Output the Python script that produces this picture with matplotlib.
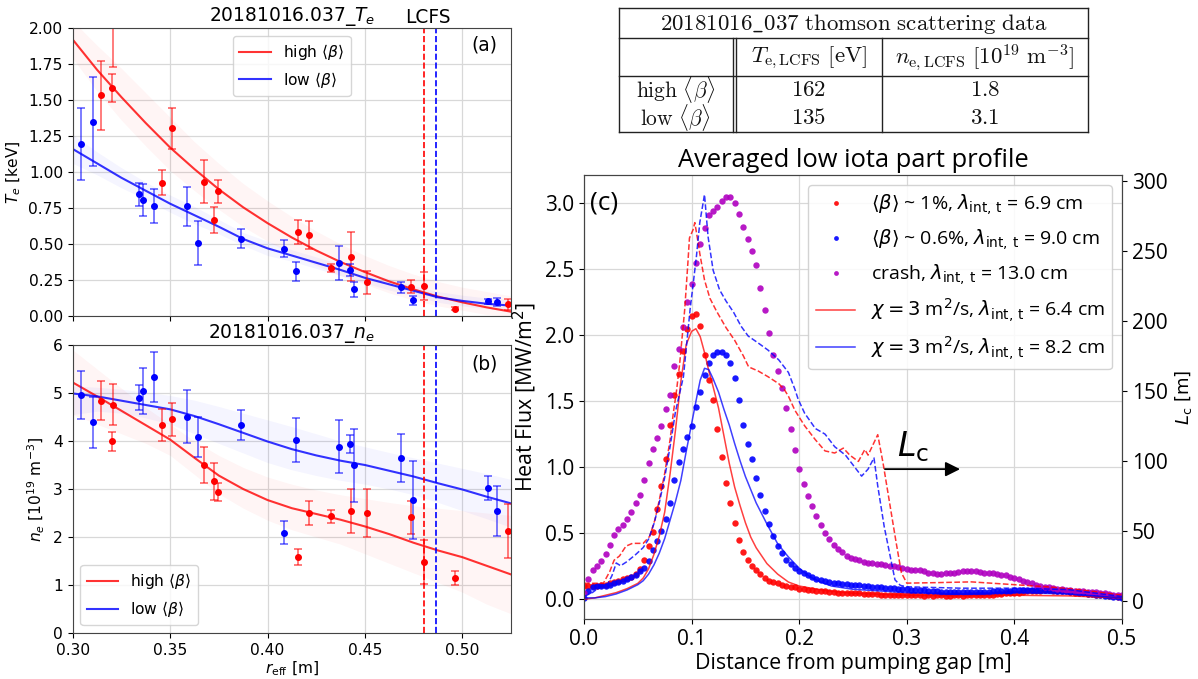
import numpy as np
import matplotlib
matplotlib.use("Agg")
import matplotlib.pyplot as plt

# ================= (a)/(b) Thomson scattering profiles =================
red_r = [0.3147, 0.3203, 0.3207, 0.3458, 0.3511, 0.3673, 0.3726, 0.3746, 0.4159, 0.4215,
         0.4325, 0.4430, 0.4509, 0.4738, 0.4802, 0.4965, 0.5237]
red_te = [1.534, 1.583, 2.25, 0.925, 1.303, 0.934, 0.667, 0.867, 0.586, 0.563,
          0.332, 0.411, 0.235, 0.203, 0.208, 0.051, 0.081]
red_te_err = [0.24, 0.10, 0.52, 0.087, 0.14, 0.15, 0.088, 0.08, 0.083, 0.10,
              0.027, 0.17, 0.08, 0.045, 0.10, 0.01, 0.04]
red_ne = [4.84, 3.99, 4.76, 4.33, 4.45, 3.50, 3.16, 2.93, 1.58, 2.50,
          2.43, 2.55, 2.51, 2.41, 1.48, 1.15, 2.12]
red_ne_err = [0.41, 0.19, 0.42, 0.33, 0.35, 0.37, 0.38, 0.19, 0.17, 0.26,
              0.14, 0.46, 0.50, 0.35, 0.45, 0.15, 0.56]

blue_r = [0.3042, 0.3103, 0.3339, 0.3361, 0.3418, 0.3585, 0.3645, 0.3865, 0.4085, 0.4144,
          0.4366, 0.4422, 0.4445, 0.4683, 0.4747, 0.5130, 0.5176]
blue_te = [1.195, 1.35, 0.844, 0.807, 0.764, 0.761, 0.505, 0.537, 0.468, 0.311,
           0.367, 0.318, 0.185, 0.198, 0.108, 0.101, 0.097]
blue_te_err = [0.25, 0.31, 0.08, 0.11, 0.115, 0.137, 0.153, 0.065, 0.06, 0.067,
               0.12, 0.04, 0.052, 0.04, 0.032, 0.02, 0.03]
blue_ne = [4.96, 4.39, 4.90, 5.04, 5.34, 4.51, 4.08, 4.33, 2.09, 4.02,
           3.88, 3.94, 3.49, 3.64, 2.77, 3.02, 2.54]
blue_ne_err = [0.50, 0.53, 0.26, 0.48, 0.52, 0.55, 0.41, 0.31, 0.235, 0.46,
               0.55, 0.19, 0.76, 0.50, 0.82, 0.25, 0.52]

fit_r = [0.300, 0.3125, 0.325, 0.3375, 0.350, 0.3625, 0.375, 0.3875, 0.400, 0.4125,
         0.425, 0.4375, 0.450, 0.4625, 0.475, 0.4875, 0.500, 0.5125, 0.525]
te_red_fit = [1.92, 1.71, 1.52, 1.34, 1.17, 1.02, 0.88, 0.755, 0.645, 0.545,
              0.455, 0.375, 0.305, 0.24, 0.185, 0.135, 0.095, 0.06, 0.03]
te_red_hi = [2.05, 1.88, 1.72, 1.55, 1.38, 1.21, 1.06, 0.92, 0.80, 0.69,
             0.59, 0.50, 0.42, 0.35, 0.29, 0.24, 0.20, 0.17, 0.14]
te_red_lo = [1.79, 1.56, 1.36, 1.18, 1.01, 0.87, 0.74, 0.62, 0.52, 0.43,
             0.35, 0.28, 0.22, 0.16, 0.11, 0.07, 0.04, 0.01, 0.0]
te_blue_fit = [1.16, 1.06, 0.96, 0.87, 0.78, 0.70, 0.62, 0.535, 0.47, 0.42,
               0.37, 0.32, 0.265, 0.22, 0.175, 0.13, 0.105, 0.085, 0.072]
te_blue_hi = [1.26, 1.14, 1.03, 0.93, 0.84, 0.76, 0.67, 0.58, 0.52, 0.46,
              0.41, 0.36, 0.30, 0.26, 0.21, 0.17, 0.145, 0.125, 0.115]
te_blue_lo = [1.06, 0.98, 0.89, 0.81, 0.72, 0.64, 0.57, 0.49, 0.42, 0.38,
              0.33, 0.28, 0.23, 0.18, 0.14, 0.095, 0.07, 0.05, 0.035]

ne_red_fit = [5.22, 4.93, 4.63, 4.33, 4.03, 3.65, 3.28, 3.00, 2.77, 2.60,
              2.48, 2.36, 2.22, 2.06, 1.88, 1.72, 1.58, 1.40, 1.22]
ne_red_hi = [5.90, 5.50, 5.10, 4.70, 4.35, 4.00, 3.70, 3.45, 3.25, 3.10,
             2.98, 2.88, 2.80, 2.72, 2.65, 2.60, 2.55, 2.50, 2.45]
ne_red_lo = [4.55, 4.35, 4.15, 3.95, 3.70, 3.30, 2.90, 2.60, 2.35, 2.15,
             2.00, 1.85, 1.65, 1.45, 1.25, 1.05, 0.85, 0.60, 0.40]
ne_blue_fit = [4.99, 4.93, 4.84, 4.75, 4.66, 4.52, 4.35, 4.17, 3.99, 3.83,
               3.70, 3.59, 3.50, 3.38, 3.26, 3.12, 2.99, 2.84, 2.70]
ne_blue_hi = [5.15, 5.12, 5.08, 5.02, 4.95, 4.85, 4.72, 4.58, 4.44, 4.30,
              4.15, 4.00, 3.88, 3.76, 3.65, 3.54, 3.43, 3.32, 3.20]
ne_blue_lo = [4.55, 4.62, 4.58, 4.48, 4.35, 4.15, 3.95, 3.75, 3.55, 3.40,
              3.28, 3.18, 3.10, 3.00, 2.88, 2.72, 2.55, 2.38, 2.20]

lcfs_red = 0.4803
lcfs_blue = 0.4863
profile_labels = [r'high $\langle\beta\rangle$', r'low $\langle\beta\rangle$']

# ================= table =================
table_title = r'$\mathrm{20181016\_037\ thomson\ scattering\ data}$'
table_cols = [r'$T_{\mathrm{e,LCFS}}\ [\mathrm{eV}]$',
              r'$n_{\mathrm{e,LCFS}}\ [10^{19}\ \mathrm{m}^{-3}]$']
table_rows = [r'$\mathrm{high}\ \langle\beta\rangle$', r'$\mathrm{low}\ \langle\beta\rangle$']
table_te = ['$162$', '$135$']
table_ne = ['$1.8$', '$3.1$']

# ================= (c) heat flux profiles =================
n_dots = 126
dot_step = 0.004
hf_red = [0.10, 0.10, 0.10, 0.10, 0.11, 0.11, 0.12, 0.13, 0.14, 0.15,
          0.16, 0.17, 0.19, 0.23, 0.30, 0.40, 0.51, 0.68, 0.86, 1.06,
          1.32, 1.55, 1.71, 1.88, 2.05, 2.15, 2.16, 2.07, 1.85, 1.66,
          1.51, 1.29, 1.08, 0.88, 0.73, 0.58, 0.45, 0.36, 0.30, 0.25,
          0.22, 0.19, 0.16, 0.14, 0.13, 0.12, 0.11, 0.10, 0.095, 0.09,
          0.08, 0.08, 0.07, 0.07, 0.065, 0.06, 0.06, 0.055, 0.055, 0.05,
          0.05, 0.05, 0.045, 0.045, 0.045, 0.04, 0.04, 0.04, 0.04, 0.035,
          0.035, 0.035, 0.035, 0.03, 0.035, 0.03, 0.03, 0.03, 0.03, 0.025,
          0.03, 0.025, 0.03, 0.03, 0.025, 0.025, 0.03, 0.03, 0.025, 0.03,
          0.03, 0.03, 0.035, 0.03, 0.035, 0.035, 0.04, 0.04, 0.045, 0.045,
          0.05, 0.05, 0.055, 0.06, 0.06, 0.065, 0.065, 0.07, 0.07, 0.065,
          0.065, 0.06, 0.06, 0.055, 0.05, 0.05, 0.045, 0.04, 0.04, 0.035,
          0.03, 0.03, 0.025, 0.025, 0.02, 0.02]
hf_blue = [0.01, 0.06, 0.09, 0.10, 0.10, 0.10, 0.11, 0.12, 0.13, 0.14,
           0.15, 0.165, 0.18, 0.21, 0.24, 0.29, 0.37, 0.44, 0.52, 0.61,
           0.73, 0.90, 1.04, 1.14, 1.23, 1.31, 1.46, 1.57, 1.70, 1.79,
           1.85, 1.87, 1.87, 1.85, 1.79, 1.68, 1.51, 1.32, 1.18, 1.06,
           0.92, 0.79, 0.67, 0.57, 0.48, 0.40, 0.35, 0.30, 0.27, 0.235,
           0.215, 0.195, 0.18, 0.165, 0.155, 0.145, 0.138, 0.13, 0.125, 0.12,
           0.117, 0.113, 0.11, 0.107, 0.104, 0.10, 0.098, 0.095, 0.092, 0.09,
           0.087, 0.085, 0.083, 0.08, 0.078, 0.075, 0.072, 0.07, 0.068, 0.066,
           0.064, 0.062, 0.06, 0.058, 0.057, 0.056, 0.055, 0.055, 0.054, 0.054,
           0.055, 0.055, 0.056, 0.057, 0.058, 0.06, 0.061, 0.062, 0.064, 0.065,
           0.066, 0.067, 0.068, 0.069, 0.07, 0.07, 0.07, 0.069, 0.068, 0.066,
           0.064, 0.062, 0.06, 0.057, 0.054, 0.05, 0.046, 0.042, 0.038, 0.034,
           0.03, 0.026, 0.022, 0.018, 0.014, 0.01]
hf_crash = [0.05, 0.15, 0.22, 0.25, 0.29, 0.34, 0.41, 0.49, 0.53, 0.565,
            0.605, 0.66, 0.727, 0.79, 0.90, 1.03, 1.14, 1.22, 1.31, 1.44,
            1.55, 1.77, 1.90, 2.06, 2.25, 2.39, 2.55, 2.69, 2.81, 2.91,
            2.94, 2.97, 3.02, 3.05, 3.05, 3.00, 2.92, 2.82, 2.73, 2.64,
            2.53, 2.36, 2.19, 2.02, 1.85, 1.73, 1.60, 1.45, 1.29, 1.13,
            0.99, 0.87, 0.78, 0.71, 0.63, 0.56, 0.505, 0.46, 0.41, 0.38,
            0.355, 0.33, 0.315, 0.305, 0.295, 0.285, 0.278, 0.272, 0.268, 0.265,
            0.26, 0.255, 0.25, 0.245, 0.235, 0.228, 0.225, 0.22, 0.218, 0.21,
            0.20, 0.195, 0.19, 0.19, 0.195, 0.197, 0.20, 0.205, 0.21, 0.21,
            0.212, 0.21, 0.205, 0.20, 0.20, 0.195, 0.19, 0.185, 0.18, 0.17,
            0.16, 0.15, 0.14, 0.13, 0.12, 0.11, 0.10, 0.095, 0.09, 0.085,
            0.08, 0.075, 0.07, 0.068, 0.065, 0.063, 0.06, 0.058, 0.055, 0.052,
            0.05, 0.045, 0.04, 0.035, 0.03, 0.03]

sim_red_x = [0.000, 0.010, 0.020, 0.030, 0.040, 0.050, 0.055, 0.060, 0.065, 0.070,
             0.075, 0.080, 0.085, 0.090, 0.095, 0.100, 0.104, 0.108, 0.112, 0.116,
             0.120, 0.125, 0.130, 0.135, 0.140, 0.145, 0.150, 0.155, 0.160, 0.170,
             0.180, 0.190, 0.200, 0.210, 0.225, 0.250, 0.300, 0.350, 0.400, 0.450, 0.500]
sim_red_y = [0.00, 0.01, 0.03, 0.05, 0.08, 0.12, 0.16, 0.23, 0.34, 0.48,
             0.66, 0.95, 1.28, 1.65, 1.93, 2.03, 2.05, 1.99, 1.87, 1.73,
             1.61, 1.45, 1.24, 1.03, 0.85, 0.71, 0.58, 0.47, 0.39, 0.27,
             0.19, 0.13, 0.10, 0.085, 0.065, 0.045, 0.03, 0.025, 0.03, 0.025, 0.01]
sim_blue_x = [0.000, 0.010, 0.020, 0.030, 0.040, 0.050, 0.055, 0.060, 0.065, 0.070,
              0.075, 0.080, 0.085, 0.090, 0.095, 0.100, 0.105, 0.108, 0.112, 0.116,
              0.120, 0.125, 0.130, 0.135, 0.140, 0.145, 0.150, 0.155, 0.160, 0.165,
              0.170, 0.180, 0.190, 0.200, 0.210, 0.220, 0.230, 0.250, 0.280, 0.300,
              0.350, 0.400, 0.450, 0.500]
sim_blue_y = [0.01, 0.01, 0.02, 0.04, 0.07, 0.11, 0.14, 0.19, 0.26, 0.35,
              0.46, 0.60, 0.74, 0.90, 1.12, 1.33, 1.54, 1.66, 1.75, 1.74,
              1.67, 1.57, 1.44, 1.32, 1.18, 1.05, 0.93, 0.83, 0.73, 0.65,
              0.57, 0.42, 0.32, 0.235, 0.17, 0.13, 0.10, 0.075, 0.06, 0.05,
              0.04, 0.05, 0.04, 0.01]

lc_red_x = [0.000, 0.018, 0.024, 0.028, 0.033, 0.039, 0.045, 0.055, 0.061, 0.066,
            0.070, 0.075, 0.080, 0.083, 0.086, 0.089, 0.0936, 0.0967, 0.098, 0.1014,
            0.103, 0.106, 0.1076, 0.112, 0.117, 0.123, 0.132, 0.140, 0.148, 0.153,
            0.162, 0.171, 0.181, 0.186, 0.190, 0.196, 0.205, 0.215, 0.224, 0.233,
            0.241, 0.247, 0.255, 0.261, 0.264, 0.273, 0.278, 0.284, 0.290, 0.295,
            0.300, 0.330, 0.360, 0.400, 0.430, 0.460, 0.500]
lc_red = [12.5, 12.5, 21, 29, 32, 39, 41, 41, 46, 58,
          72, 91, 115, 134, 150, 170, 208, 243, 259, 265,
          270, 256, 248, 229, 216, 207, 195, 186, 175, 167,
          164, 160, 155, 151, 146, 136, 125, 115, 107, 105.5,
          109, 104, 99.5, 108, 104, 118.6, 98, 70, 42, 20,
          12.6, 13, 13.5, 11.5, 10, 8, 4]
lc_blue_x = [0.000, 0.008, 0.015, 0.022, 0.026, 0.030, 0.034, 0.040, 0.048, 0.055,
             0.060, 0.065, 0.070, 0.075, 0.080, 0.085, 0.0924, 0.0955, 0.0986, 0.1008,
             0.1045, 0.1076, 0.112, 0.1153, 0.120, 0.126, 0.132, 0.139, 0.146, 0.1526,
             0.162, 0.171, 0.181, 0.190, 0.196, 0.199, 0.205, 0.215, 0.224, 0.233,
             0.243, 0.250, 0.258, 0.264, 0.2695, 0.273, 0.279, 0.284, 0.289, 0.294,
             0.300, 0.350, 0.400, 0.450, 0.500]
lc_blue = [3, 6, 10, 12, 18, 27, 25, 28, 33, 38,
           44, 55, 70, 88, 110, 135, 160, 184, 208, 222,
           246, 270, 290, 260, 236, 222, 214, 206, 196, 189,
           184, 179, 172, 163, 151, 144, 134, 123, 119, 110,
           104, 97, 89, 94, 102, 82, 53, 34, 15, 11,
           10, 9, 9, 8, 3]

hf_labels = [r'$\langle\beta\rangle$ ~ 1%, $\lambda_{\mathrm{int,\,t}}$ = 6.9 cm',
             r'$\langle\beta\rangle$ ~ 0.6%, $\lambda_{\mathrm{int,\,t}}$ = 9.0 cm',
             r'crash, $\lambda_{\mathrm{int,\,t}}$ = 13.0 cm',
             r'$\chi = 3$ m$^2$/s, $\lambda_{\mathrm{int,\,t}}$ = 6.4 cm',
             r'$\chi = 3$ m$^2$/s, $\lambda_{\mathrm{int,\,t}}$ = 8.2 cm']

# ================= figure =================
plt.rcParams['font.size'] = 11.2
fig = plt.figure(figsize=(11.98, 6.79), dpi=100)
W, H = 1198.0, 679.0


def rect(l, t, r, b):
    return [l / W, 1 - b / H, (r - l) / W, (b - t) / H]


RED, BLUE, MAG = '#ff0000', '#0000ff', '#b000c0'
GRID = '#d8d8d8'

# ---------- table ----------
axt = fig.add_axes([0, 0, 1, 1])
axt.set_xlim(0, W)
axt.set_ylim(H, 0)
axt.axis('off')
TL, TR = 619.0, 1088.0
Y0, Y1, Y2, Y3 = 7.5, 38.0, 76.0, 132.0
XD1, XD2, XS = 732.5, 736.0, 882.0
lk = dict(color='#222222', lw=1.0)
for yy in (Y0, Y1, Y2, Y3):
    axt.plot([TL, TR], [yy, yy], **lk)
axt.plot([TL, TL], [Y0, Y3], **lk)
axt.plot([TR, TR], [Y0, Y3], **lk)
for xx in (XD1, XD2, XS):
    axt.plot([xx, xx], [Y1, Y3], **lk)
tk = dict(math_fontfamily='cm', fontsize=16.5, ha='center', va='center', color='#111111')
axt.text((TL + TR) / 2, (Y0 + Y1) / 2 + 1, table_title, **tk)
axt.text((XD2 + XS) / 2, (Y1 + Y2) / 2 + 1, table_cols[0], **tk)
axt.text((XS + TR) / 2, (Y1 + Y2) / 2 + 1, table_cols[1], **tk)
row_y = [89.5, 117.5]
rk = dict(tk, fontsize=15.5)
for i in range(2):
    axt.text((TL + XD1) / 2, row_y[i], table_rows[i], **rk)
    axt.text((XD2 + XS) / 2, row_y[i], table_te[i], **tk)
    axt.text((XS + TR) / 2, row_y[i], table_ne[i], **tk)

# ---------- panels (a), (b) ----------
axa = fig.add_axes(rect(72.7, 28, 511, 316))
axb = fig.add_axes(rect(72.7, 345, 511, 633))

for ax, rf, rhi, rlo, bf, bhi, blo, rv, re, bv, be in (
        (axa, te_red_fit, te_red_hi, te_red_lo, te_blue_fit, te_blue_hi, te_blue_lo,
         red_te, red_te_err, blue_te, blue_te_err),
        (axb, ne_red_fit, ne_red_hi, ne_red_lo, ne_blue_fit, ne_blue_hi, ne_blue_lo,
         red_ne, red_ne_err, blue_ne, blue_ne_err)):
    ax.set_axisbelow(True)
    ax.grid(True, color=GRID, lw=0.9)
    ax.fill_between(fit_r, rlo, rhi, color=RED, alpha=0.04, lw=0)
    ax.fill_between(fit_r, blo, bhi, color=BLUE, alpha=0.04, lw=0)
    ax.plot(fit_r, rf, color=RED, lw=1.5, alpha=0.8, label=profile_labels[0])
    ax.plot(fit_r, bf, color=BLUE, lw=1.5, alpha=0.8, label=profile_labels[1])
    ax.errorbar(red_r, rv, yerr=re, fmt='o', ms=4, color=RED, ecolor=(1, 0, 0, 0.6),
                elinewidth=1.2, capsize=3.2, capthick=1.2)
    ax.errorbar(blue_r, bv, yerr=be, fmt='o', ms=4, color=BLUE, ecolor=(0, 0, 1, 0.6),
                elinewidth=1.2, capsize=3.2, capthick=1.2)
    ax.axvline(lcfs_red, color=RED, ls='--', lw=1.2)
    ax.axvline(lcfs_blue, color=BLUE, ls='--', lw=1.2)
    ax.set_xlim(0.30, 0.525)
    ax.set_xticks([0.30, 0.35, 0.40, 0.45, 0.50])
    for s in ax.spines.values():
        s.set_color('#444444')

axa.set_ylim(0, 2.0)
axa.set_yticks([0, 0.25, 0.5, 0.75, 1.0, 1.25, 1.5, 1.75, 2.0])
axa.tick_params(labelbottom=False)
axa.set_title(r'20181016.037_$T_e$', fontsize=13.4, pad=3.6)
axa.annotate('LCFS', xy=(0.4825, 1.0), xycoords=('data', 'axes fraction'),
             xytext=(0, 3.6), textcoords='offset points', ha='center', va='baseline',
             fontsize=13.4)
axa.text(0.5115, 1.88, '(a)', ha='center', va='center', fontsize=13.4)
axa.set_ylabel(r'$T_e$ [keV]')
axa.legend(loc='upper center', fontsize=11.2)

axb.set_ylim(0, 6)
axb.set_yticks([0, 1, 2, 3, 4, 5, 6])
axb.set_title(r'20181016.037_$n_e$', fontsize=13.4, pad=3.6)
axb.text(0.5115, 5.6, '(b)', ha='center', va='center', fontsize=13.4)
axb.set_ylabel(r'$n_e$ [10$^{19}$ m$^{-3}$]')
axb.set_xlabel(r'$r_{\mathrm{eff}}$ [m]', labelpad=1)
axb.legend(loc='lower left', fontsize=11.2)

# ---------- panel (c) ----------
FC = 'Open Sans'
axc = fig.add_axes(rect(584, 175, 1122, 619))
axc.set_axisbelow(True)
axc.grid(True, color=GRID, lw=0.9)
xd = np.arange(n_dots) * dot_step
axc.plot(xd, hf_red, 'o', ms=4.6, mew=0, color=RED, alpha=0.9, label=hf_labels[0])
axc.plot(xd, hf_blue, 'o', ms=4.6, mew=0, color=BLUE, alpha=0.9, label=hf_labels[1])
axc.plot(xd, hf_crash, 'o', ms=4.6, mew=0, color=MAG, alpha=0.9, label=hf_labels[2])
axc.plot(sim_red_x, sim_red_y, color=RED, lw=1.1, alpha=0.75, label=hf_labels[3])
axc.plot(sim_blue_x, sim_blue_y, color=BLUE, lw=1.1, alpha=0.75, label=hf_labels[4])
axc.set_xlim(0, 0.5)
axc.set_ylim(-0.15, 3.215)
axc.set_xticks([0, 0.1, 0.2, 0.3, 0.4, 0.5])
axc.set_yticks([0, 0.5, 1.0, 1.5, 2.0, 2.5, 3.0])
axc.set_xlabel('Distance from pumping gap [m]', fontfamily=FC, fontsize=15.4, labelpad=2)
axc.set_ylabel(r'Heat Flux [MW/m$^2$]', fontfamily=FC, fontsize=15.4)
axc.set_title('Averaged low iota part profile', fontfamily=FC, fontsize=18.4, pad=6)
axc.text(0.006, 3.0, '(c)', ha='left', va='center', fontfamily=FC, fontsize=19)
for s in axc.spines.values():
    s.set_color('#444444')

axr = axc.twinx()
axr.plot(lc_red_x, lc_red, '--', color=RED, lw=1.1, alpha=0.8)
axr.plot(lc_blue_x, lc_blue, '--', color=BLUE, lw=1.1, alpha=0.8)
axr.set_ylim(-13, 304)
axr.set_yticks([0, 50, 100, 150, 200, 250, 300])
axr.set_ylabel(r'$L_\mathrm{c}$ [m]', fontsize=13)
axr.annotate('', xy=(0.3495, 94), xytext=(0.2797, 94),
             arrowprops=dict(arrowstyle='-|>', color='black', lw=1.3,
                             mutation_scale=22, shrinkA=0, shrinkB=0))
axr.text(0.306, 110, r'$L_\mathrm{c}$', ha='center', va='center', fontsize=24)
for s in axr.spines.values():
    s.set_color('#444444')

leg = axc.legend(loc='upper right', prop={'family': FC, 'size': 14}, markerscale=0.75,
                 framealpha=0.85)
leg.set_zorder(10)

for lab in axc.get_xticklabels() + axc.get_yticklabels() + axr.get_yticklabels():
    lab.set_fontfamily(FC)
    lab.set_fontsize(15)

fig.savefig('out.png', dpi=100)
